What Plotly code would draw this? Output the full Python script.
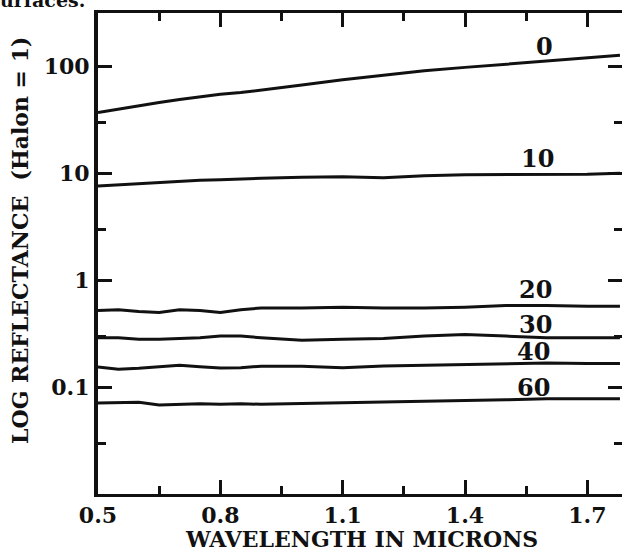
import plotly.graph_objects as go

# Wavelength grid (microns)
wl = [0.50, 0.55, 0.60, 0.65, 0.70, 0.75, 0.80, 0.85, 0.90, 1.00, 1.10, 1.20, 1.30, 1.40, 1.50, 1.60, 1.70, 1.78]

# Reflectance relative to Halon for each angle label
r0 = [37, 40, 43, 46, 49, 52, 55, 57, 60, 67, 75, 83, 91, 98, 105, 113, 120, 127]
r10 = [7.6, 7.8, 8.0, 8.2, 8.4, 8.6, 8.7, 8.9, 9.0, 9.2, 9.3, 9.1, 9.5, 9.7, 9.7, 9.7, 9.8, 10.0]
r20 = [0.52, 0.53, 0.51, 0.50, 0.53, 0.52, 0.50, 0.53, 0.55, 0.55, 0.56, 0.55, 0.55, 0.56, 0.58, 0.58, 0.57, 0.57]
r30 = [0.29, 0.29, 0.28, 0.28, 0.285, 0.29, 0.30, 0.30, 0.29, 0.275, 0.28, 0.285, 0.30, 0.31, 0.30, 0.29, 0.29, 0.29]
r40 = [0.154, 0.147, 0.150, 0.155, 0.160, 0.155, 0.151, 0.152, 0.157, 0.157, 0.152, 0.158, 0.160, 0.162, 0.166, 0.168, 0.166, 0.166]
r60 = [0.071, 0.071, 0.072, 0.068, 0.069, 0.070, 0.069, 0.070, 0.069, 0.070, 0.071, 0.072, 0.074, 0.075, 0.076, 0.078, 0.078, 0.078]

series = [r0, r10, r20, r30, r40, r60]
curve_labels = ["0", "10", "20", "30", "40", "60"]

x_major = [0.5, 0.8, 1.1, 1.4, 1.7]
x_major_text = ["0.5", "0.8", "1.1", "1.4", "1.7"]
x_minor = [0.65, 0.95, 1.25, 1.55]
y_major = [0.1, 1, 10, 100]
y_major_text = ["0.1", "1", "10", "100"]
y_minor = [0.03, 0.3, 3, 30]

INK = "#111111"
FONT = "DejaVu Serif"
X_RANGE = [0.5, 1.785]
Y_RANGE = [-2, 2.5]

fig = go.Figure()
for ys, name in zip(series, curve_labels):
    fig.add_trace(go.Scatter(x=wl, y=ys, mode="lines", name=name,
                             line=dict(color=INK, width=3), showlegend=False,
                             hoverinfo="skip"))

label_pos = [(1.595, 2.187), (1.578, 1.142), (1.572, -0.089),
             (1.572, -0.416), (1.568, -0.666), (1.568, -1.006)]
for (lx, ly), t in zip(label_pos, curve_labels):
    fig.add_annotation(x=lx, y=ly, xref="x", yref="y", text=t, showarrow=False,
                       font=dict(family=FONT, size=24, color=INK, weight="bold"))

fig.add_annotation(x=-0.149, y=0.528, xref="paper", yref="paper",
                   xanchor="center", yanchor="middle",
                   text="LOG REFLECTANCE  (Halon = 1)", textangle=-90, showarrow=False,
                   font=dict(family=FONT, size=22, color=INK, weight="bold"))
fig.add_annotation(x=0.503, y=-0.093, xref="paper", yref="paper",
                   xanchor="center", yanchor="middle",
                   text="WAVELENGTH IN MICRONS", showarrow=False,
                   font=dict(family=FONT, size=22, color=INK, weight="bold"))
fig.add_annotation(x=-0.19, y=1.0, xref="paper", yref="paper",
                   xanchor="left", yanchor="bottom",
                   text="urfaces.", showarrow=False,
                   font=dict(family=FONT, size=19, color=INK, weight="bold"))

tick_font = dict(family=FONT, size=22, color=INK, weight="bold")

fig.update_xaxes(type="linear", range=X_RANGE, automargin=False,
                 tickmode="array", tickvals=x_major, ticktext=x_major_text,
                 ticks="inside", ticklen=14, tickwidth=3, tickcolor=INK,
                 minor=dict(tickmode="array", tickvals=x_minor, ticks="inside",
                            ticklen=8, tickwidth=3, tickcolor=INK),
                 showline=True, linewidth=3, linecolor=INK, mirror="ticks",
                 showgrid=False, zeroline=False,
                 tickfont=tick_font)
fig.update_yaxes(type="log", range=Y_RANGE, automargin=False,
                 tickmode="array", tickvals=y_major, ticktext=y_major_text,
                 ticks="inside", ticklen=14, tickwidth=3, tickcolor=INK,
                 minor=dict(tickmode="array", tickvals=y_minor, ticks="inside",
                            ticklen=8, tickwidth=3, tickcolor=INK),
                 showline=True, linewidth=4, linecolor=INK, mirror="ticks",
                 showgrid=False, zeroline=False,
                 tickfont=tick_font)
fig.update_layout(width=622, height=552,
                  margin=dict(l=98, r=0, t=13, b=58),
                  paper_bgcolor="white", plot_bgcolor="white")

fig.write_html("out.html")
